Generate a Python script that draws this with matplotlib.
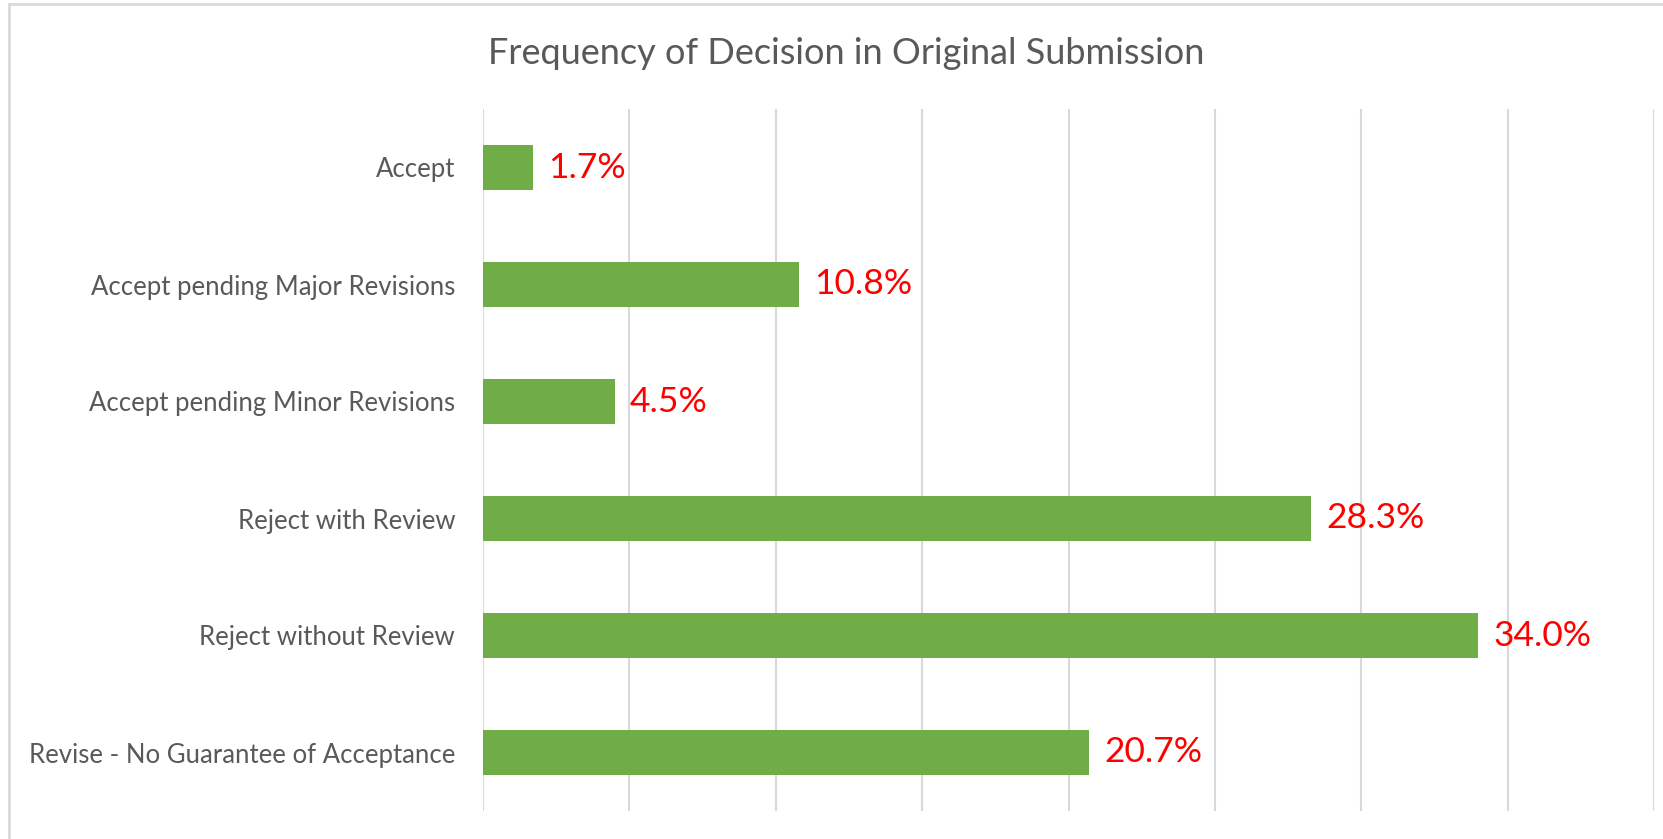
import matplotlib
matplotlib.use("Agg")
import matplotlib.pyplot as plt
from matplotlib.patches import Rectangle

categories = ["Accept", "Accept pending Major Revisions", "Accept pending Minor Revisions",
              "Reject with Review", "Reject without Review", "Revise - No Guarantee of Acceptance"]
values = [1.7, 10.8, 4.5, 28.3, 34.0, 20.7]
labels = ["1.7%", "10.8%", "4.5%", "28.3%", "34.0%", "20.7%"]
title = "Frequency of Decision in Original Submission"

plt.rcParams['font.family'] = ['Lato', 'DejaVu Sans']

fig = plt.figure(figsize=(16.63, 8.39), dpi=100)
ax = fig.add_axes([483/1663, 1-811/839, (1654-483)/1663, (811-109)/839])

y = list(range(len(categories)))
ax.barh(y, values, height=0.38, color="#70AD47")
for yi, v, lab in zip(y, values, labels):
    ax.annotate(lab, (v, yi), xytext=(11, 0), textcoords="offset points",
                va="center", ha="left", color="#FF0000", fontsize=25.5)

ax.set_xlim(0, 40)
ax.set_ylim(5.5, -0.5)
ax.set_xticks(range(0, 45, 5))
ax.set_xticklabels([])
ax.tick_params(axis='x', length=0)
ax.tick_params(axis='y', length=0, pad=20, labelsize=18.5, labelcolor="#595959")
ax.set_yticks(y)
ax.set_yticklabels(categories)
ax.grid(axis='x', color="#D9D9D9", linewidth=1.5)
ax.set_axisbelow(True)
for s in ax.spines.values():
    s.set_visible(False)

fig.text(0.509, 1-53/839, title, ha="center", va="center", fontsize=26, color="#595959")

# outer chart frame (left and top edges visible)
fig.patches.append(Rectangle((9/1663, -0.05), 1.2, 1-4/839+0.05, transform=fig.transFigure,
                             fill=False, edgecolor="#D9D9D9", linewidth=2))

fig.savefig("out.png", dpi=100)
